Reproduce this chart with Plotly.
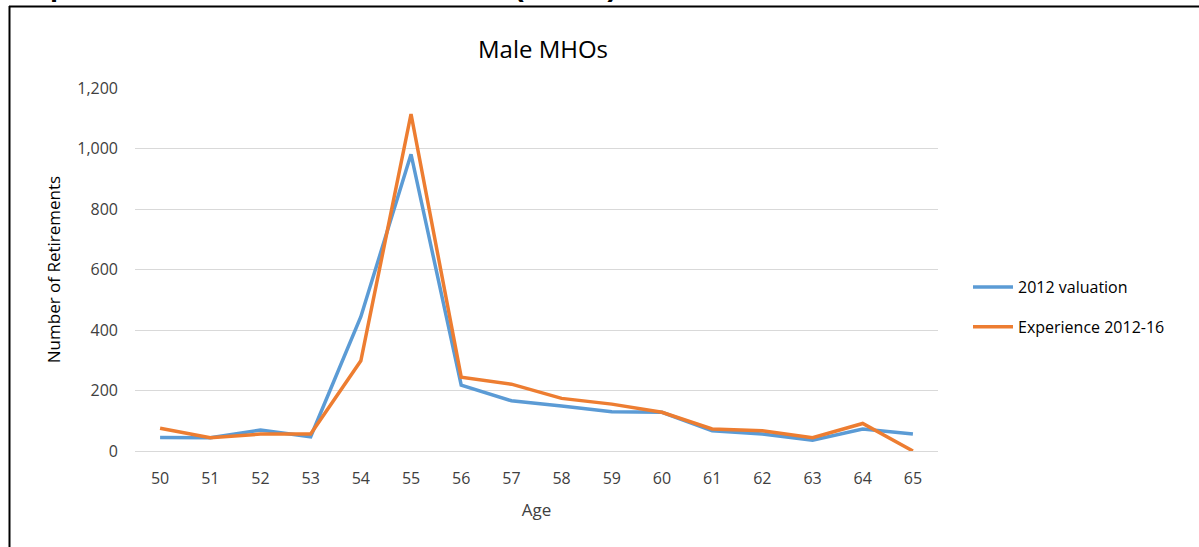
import plotly.graph_objects as go

ages = [50, 51, 52, 53, 54, 55, 56, 57, 58, 59, 60, 61, 62, 63, 64, 65]
valuation_2012 = [45, 44, 69, 47, 444, 981, 218, 166, 149, 130, 128, 67, 56, 36, 73, 56]
experience_2012_16 = [75, 44, 56, 56, 298, 1114, 244, 221, 174, 155, 128, 73, 67, 44, 91, 0]
y_ticks = [0, 200, 400, 600, 800, 1000, 1200]
y_tick_labels = ["0", "200", "400", "600", "800", "1,000", "1,200"]

FONT = "Open Sans, Liberation Sans, Arial"

fig = go.Figure()
fig.add_trace(go.Scatter(x=ages, y=valuation_2012, mode="lines", name="2012 valuation",
                         legendgroup="a", line=dict(color="#5B9BD5", width=3.5)))
fig.add_trace(go.Scatter(x=ages, y=experience_2012_16, mode="lines", name="Experience 2012-16",
                         legendgroup="b", line=dict(color="#ED7D31", width=3.5)))

L, R, T, B = 135, 261, 88, 96
W, H = 1199, 547
pw, ph = W - L - R, H - T - B

def px_to_paper_x(px):
    return (px - L) / pw

def px_to_paper_y(py):
    return (H - B - py) / ph

fig.update_layout(
    width=W, height=H,
    margin=dict(l=L, r=R, t=T, b=B),
    plot_bgcolor="white", paper_bgcolor="white",
    font=dict(family=FONT, size=15, color="#404040"),
    title=dict(text="Male MHOs", x=px_to_paper_x(543), xref="paper", xanchor="center",
               y=1 - 50 / H, yanchor="middle",
               font=dict(family=FONT, size=24, color="#000000")),
    xaxis=dict(type="category", categoryorder="array", categoryarray=ages,
               range=[-0.5, len(ages) - 0.5],
               showgrid=False, showline=False, ticks="", zeroline=False,
               ticklabelstandoff=16,
               title=dict(text="Age", font=dict(size=17, color="#404040"), standoff=16),
               tickfont=dict(size=16, color="#404040")),
    yaxis=dict(range=[0, 1200], tickvals=y_ticks, ticktext=y_tick_labels,
               showgrid=True, gridcolor="#D9D9D9", gridwidth=1,
               zeroline=True, zerolinecolor="#D9D9D9", zerolinewidth=1,
               showline=False, ticks="", ticklabelstandoff=16,
               title=dict(text="Number of Retirements", font=dict(size=17, color="#000000"), standoff=12),
               tickfont=dict(size=16, color="#404040")),
    legend=dict(x=px_to_paper_x(968), y=px_to_paper_y(270), xanchor="left", yanchor="top",
                font=dict(size=16, color="#000000"), tracegroupgap=16,
                itemwidth=40, bgcolor="rgba(0,0,0,0)"),
    showlegend=True,
)

# Outer frame of the source figure (cropped)
fig.add_shape(type="line", xref="paper", yref="paper",
              x0=px_to_paper_x(9), x1=px_to_paper_x(1210),
              y0=px_to_paper_y(6.5), y1=px_to_paper_y(6.5),
              line=dict(color="black", width=2))
fig.add_shape(type="line", xref="paper", yref="paper",
              x0=px_to_paper_x(9.5), x1=px_to_paper_x(9.5),
              y0=px_to_paper_y(6), y1=px_to_paper_y(560),
              line=dict(color="black", width=2))

# Cropped heading above the frame
fig.add_annotation(text="<b>Graph 6: Male Mental Health Officers (MHOs)</b>",
                   xref="paper", yref="paper", x=px_to_paper_x(-2), y=px_to_paper_y(4),
                   xanchor="left", yanchor="bottom", showarrow=False,
                   font=dict(family="Liberation Sans, Arial", size=29, color="#000000"))

fig.write_html("out.html")
